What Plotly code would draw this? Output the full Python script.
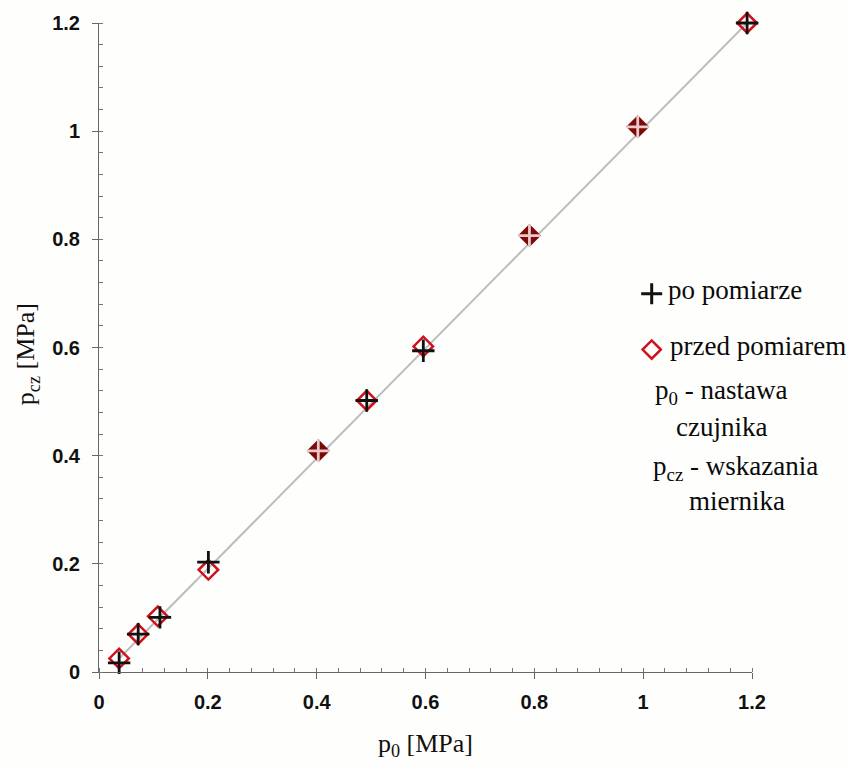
import plotly.graph_objects as go

# Sensor setpoint p0 [MPa] and meter readings pcz [MPa]
p0_po = [0.037, 0.072, 0.112, 0.201, 0.403, 0.492, 0.596, 0.791, 0.990, 1.191]
pcz_po = [0.017, 0.070, 0.101, 0.203, 0.409, 0.502, 0.594, 0.807, 1.008, 1.200]

p0_przed = [0.037, 0.072, 0.108, 0.201, 0.403, 0.492, 0.596, 0.791, 0.990, 1.191]
pcz_przed = [0.025, 0.070, 0.103, 0.189, 0.409, 0.502, 0.602, 0.807, 1.008, 1.200]

# points where the two markers merge into a dark blot
dark_idx = [4, 7, 8]

tick_vals = [0, 0.2, 0.4, 0.6, 0.8, 1.0, 1.2]
tick_text = ["0", "0.2", "0.4", "0.6", "0.8", "1", "1.2"]

RED = "#d0101c"
DARK = "#7d0a0a"
SERIF = "Liberation Serif"
SANS = "Liberation Sans"

diamond_line = [DARK if i in dark_idx else RED for i in range(len(p0_przed))]
diamond_fill = [DARK if i in dark_idx else "rgba(0,0,0,0)" for i in range(len(p0_przed))]
plus_col = ["#e9c9c9" if i in dark_idx else "#111111" for i in range(len(p0_po))]

fig = go.Figure()

# straight reference line through the first and last measurement
fig.add_trace(go.Scatter(
    x=[p0_przed[0], p0_przed[-1]], y=[pcz_przed[0], pcz_przed[-1]],
    mode="lines", line=dict(color="#bdbdbd", width=2),
    hoverinfo="skip", showlegend=False, cliponaxis=False))

fig.add_trace(go.Scatter(
    x=p0_przed, y=pcz_przed, mode="markers", name="przed pomiarem",
    marker=dict(symbol="diamond", size=15, color=diamond_fill,
                line=dict(color=diamond_line, width=2.5)),
    showlegend=False, cliponaxis=False))

fig.add_trace(go.Scatter(
    x=p0_po, y=pcz_po, mode="markers", name="po pomiarze",
    marker=dict(symbol="cross-thin", size=16,
                line=dict(color=plus_col, width=2.8)),
    showlegend=False, cliponaxis=False))

# key symbols on an overlay axis spanning the plot area
fig.add_trace(go.Scatter(
    x=[0.8464], y=[0.5828], mode="markers", xaxis="x2", yaxis="y2",
    marker=dict(symbol="cross-thin", size=15, line=dict(color="#111111", width=3)),
    showlegend=False, hoverinfo="skip"))
fig.add_trace(go.Scatter(
    x=[0.8464], y=[0.4969], mode="markers", xaxis="x2", yaxis="y2",
    marker=dict(symbol="diamond-open", size=14, color=RED,
                line=dict(color=RED, width=2.5)),
    showlegend=False, hoverinfo="skip"))

axis_common = dict(
    range=[0, 1.2], tickvals=tick_vals, ticktext=tick_text,
    showline=True, linecolor="#666666", linewidth=1,
    ticks="outside", ticklen=6, tickcolor="#666666", tickwidth=1,
    minor=dict(ticks="inside", ticklen=4, dtick=0.04, tickcolor="#777777", showgrid=False),
    showgrid=False, zeroline=False,
    tickfont=dict(family=SANS, size=20, color="#111111", weight="bold"),
)

txt = dict(family=SERIF, size=26, color="#111111")
key = dict(family=SERIF, size=27, color="#0a0a0a")

annotations = [
    dict(x=0.5, y=-0.112, xref="paper", yref="paper", text="p<sub>0</sub> [MPa]",
         showarrow=False, font=txt, xanchor="center", yanchor="middle"),
    dict(x=-0.110, y=0.490, xref="paper", yref="paper", text="p<sub>cz</sub> [MPa]",
         showarrow=False, font=txt, xanchor="center", yanchor="middle", textangle=-90),
    dict(x=0.869, y=0.588, xref="paper", yref="paper", text="po pomiarze",
         showarrow=False, font=key, xanchor="left", yanchor="middle"),
    dict(x=0.872, y=0.502, xref="paper", yref="paper", text="przed pomiarem",
         showarrow=False, font=key, xanchor="left", yanchor="middle"),
    dict(x=0.953, y=0.432, xref="paper", yref="paper", text="p<sub>0</sub> - nastawa",
         showarrow=False, font=key, xanchor="center", yanchor="middle"),
    dict(x=0.953, y=0.377, xref="paper", yref="paper", text="czujnika",
         showarrow=False, font=key, xanchor="center", yanchor="middle"),
    dict(x=0.974, y=0.315, xref="paper", yref="paper", text="p<sub>cz</sub> - wskazania",
         showarrow=False, font=key, xanchor="center", yanchor="middle"),
    dict(x=0.977, y=0.264, xref="paper", yref="paper", text="miernika",
         showarrow=False, font=key, xanchor="center", yanchor="middle"),
]

fig.update_layout(
    width=849, height=763,
    margin=dict(l=99, r=97, t=20, b=91),
    paper_bgcolor="#fefefc", plot_bgcolor="#fefefc",
    xaxis=dict(**axis_common, ticklabelstandoff=6),
    yaxis=dict(**axis_common, ticklabelstandoff=8),
    xaxis2=dict(range=[0, 1], overlaying="x", visible=False, fixedrange=True),
    yaxis2=dict(range=[0, 1], overlaying="y", visible=False, fixedrange=True),
    annotations=annotations,
    showlegend=False,
)

fig.write_html("out.html")
